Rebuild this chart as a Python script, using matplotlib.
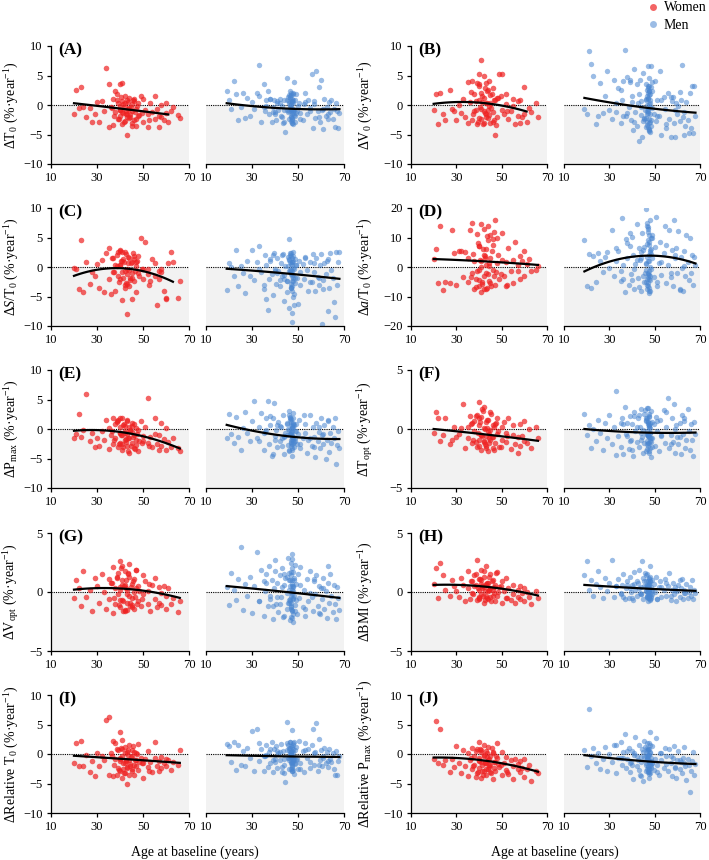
import numpy as np
import matplotlib.pyplot as plt
from matplotlib.lines import Line2D

plt.rcParams['font.family'] = ['Liberation Serif', 'DejaVu Serif']
plt.rcParams['mathtext.fontset'] = 'custom'
plt.rcParams['mathtext.rm'] = 'Liberation Serif'
plt.rcParams['mathtext.it'] = 'Liberation Serif:italic'
plt.rcParams['mathtext.bf'] = 'Liberation Serif:bold'

# ages at baseline (same subjects in every panel)
women_age = [20, 21, 22, 23, 24, 25, 27, 28, 29, 30,
             31, 32, 33, 34, 35, 35, 36, 37, 37, 38,
             38, 39, 39, 40, 40, 40, 41, 41, 41, 42,
             42, 42, 43, 43, 43, 44, 44, 44, 45, 45,
             45, 46, 46, 47, 47, 48, 48, 49, 50, 50,
             51, 52, 52, 53, 54, 55, 55, 56, 57, 57,
             58, 58, 59, 60, 60, 61, 62, 63, 65, 66,
             36.5, 37.5, 38.5, 39.5, 40.2, 40.6, 41.3, 41.7, 42.3, 42.7,
             43.2, 43.6, 44.2, 44.6, 45.3, 45.7, 46.4, 46.8, 47.4, 48.4,
             38.8, 39.8, 40.8, 41.5, 42.5, 43.5, 44.5, 46.0, 49.5, 52.5]
men_age = [19, 20, 21, 22, 23, 24, 25, 26, 27, 28,
           29, 30, 31, 32, 33, 34, 35, 35.5, 36, 37,
           37.5, 38, 38.5, 39, 39.5, 40, 40.5, 41, 41.5, 42,
           42.5, 43, 43.5, 44, 44.5, 45, 45.5, 46, 46.3, 46.6,
           46.9, 47.1, 47.3, 47.5, 47.7, 47.9, 48.1, 48.3, 48.6, 48.9,
           49, 49.5, 50, 50.5, 51, 52, 52.5, 53, 54, 54.5,
           55, 56, 56.5, 57, 57.5, 58, 58.5, 59, 59.5, 60,
           60.5, 61, 61.5, 62, 62.5, 63, 63.5, 64, 64.5, 65,
           65.5, 66, 66.5, 67, 67.5, 68, 45.2, 46.1, 47.0, 47.6,
           46.4, 46.7, 47.0, 47.2, 47.4, 47.6, 47.8, 48.0, 46.5, 47.3,
           46.8, 47.1, 47.5, 47.9, 46.2, 46.9, 47.7, 48.2, 45.6, 48.5,
           35, 38, 40, 42, 43, 44, 45, 49, 51, 53,
           55, 57, 59, 61, 63, 33, 36, 39, 41, 44,
           46.6, 47.2, 47.0, 46.8, 47.4, 47.6, 48.0, 46.3, 47.8, 46.9]

# (A) dT0
a_women = [-1.6, 2.5, -0.5, 3.0, -0.4, -2.0, -0.5, -2.8, -1.5, 0.5,
           -2.8, 0.6, -1.0, 6.2, 3.5, -3.7, -0.3, 1.0, -3.4, 2.4,
           -1.2, 0.3, -2.4, 3.5, -0.8, -1.9, 3.8, 0.6, -1.2, 1.5,
           -0.3, -2.7, -5.0, 0.9, -1.6, 1.2, -0.5, -2.2, -3.6, 0.2,
           -1.0, -2.5, 1.0, -0.7, -3.5, 0.4, -1.8, 1.6, -2.9, 1.1,
           -0.9, -1.5, -3.8, 0.3, -1.2, 1.5, -2.4, -0.6, -1.9, -3.7,
           0.0, -2.0, -2.6, 0.3, -1.3, -2.8, -1.0, -0.4, -1.7, -2.2,
           -0.5, -1.8, 0.8, -2.3, -0.2, 1.3, -1.4, -2.9, 0.3, -1.0,
           -2.1, 0.5, -1.6, -0.4, -3.0, 0.9, -1.2, -2.4, -0.1, -1.7,
           1.9, -0.9, -3.2, 0.2, -1.5, -0.6, -2.0, 0.6, -1.3, -2.6]
a_men = [2.3, 0.9, -0.6, 4.1, 1.9, -2.6, -0.4, 2.0, -2.2, 1.2,
         -1.8, 0.5, -0.6, 2.1, 6.8, -2.9, 3.5, -1.1, 0.8, 2.4,
         -1.6, 1.1, -2.8, -0.3, 0.9, -1.2, -2.6, 0.4, -0.9, 1.0,
         -1.9, -0.2, -3.0, 0.8, -4.5, 4.6, -1.2, 0.3, -2.4, 1.5,
         2.0, -1.0, 0.5, -3.1, 1.8, -0.6, 3.9, -1.7, 0.9, -2.8,
         1.9, -1.0, -0.2, 0.3, -1.4, -2.6, 0.1, 2.0, -1.5, 0.8,
         -0.5, 5.2, -3.9, 0.6, -2.2, 5.7, -1.1, 3.0, -2.9, 4.3,
         -0.8, -4.0, 1.1, -1.9, -0.3, -2.4, 0.5, -1.2, 0.8, -2.3,
         -0.6, -3.8, 0.4, -1.0, -3.9, -1.4, -0.9, 1.7, -2.0, 0.6,
         -0.3, 1.2, -1.8, 0.6, -2.5, -0.9, 2.1, -1.4, 0.0, -3.0,
         1.7, -0.6, -2.2, 0.9, -1.1, -2.7, 0.4, -0.8, 1.4, -1.9,
         -0.4, 1.0, -1.6, 0.3, -2.1, -0.9, 0.8, -1.3, -2.4, 0.5,
         -1.0, 0.2, -2.0, -0.7, -1.5, 1.6, -0.2, -1.2, 0.7, -2.8,
         2.3, -1.5, 0.1, -0.6, 1.1, -2.3, -1.0, 0.6, -3.2, -0.3]

# (B) dV0
b_women = [-0.8, 1.8, -3.3, 2.0, -1.6, -2.6, 2.5, -0.7, -1.0, -2.5,
           0.0, -1.3, 1.0, -2.0, 3.9, -3.0, 0.5, 4.0, -2.6, 1.8,
           -1.1, 3.8, -3.3, 5.3, 0.9, -2.2, 7.6, 2.0, -0.6, 4.9,
           1.2, -3.1, -1.5, 3.8, 0.3, 2.6, -2.2, -0.9, 1.7, -3.0,
           0.4, -1.2, 2.9, -5.1, 0.8, -2.0, 1.2, 5.2, -0.8, 5.2,
           -1.5, 1.8, 0.2, -2.4, -1.0, 1.1, -0.2, -3.3, 0.6, -1.8,
           0.9, -3.1, -2.0, 3.1, -1.5, -2.9, -0.5, -1.2, 0.3, -2.1,
           2.2, -1.5, 0.7, -2.8, 3.5, -0.4, 1.6, -3.2, -1.0, 2.9,
           -2.1, 0.3, 4.1, -1.7, -0.5, 1.9, -2.6, 0.8, -3.4, 1.2,
           -0.9, 3.2, -2.3, 0.5, -1.4, 2.4, -0.2, -2.9, 1.5, -1.1]
b_men = [-0.7, -1.5, 9.2, 7.0, 4.9, -3.3, -1.8, 3.8, -1.4, 1.6,
         5.8, -0.8, -2.4, 4.3, -1.2, 2.9, -3.0, 0.8, 4.0, 9.4,
         -1.9, 4.7, -0.4, 3.9, -2.5, 1.5, -4.3, 6.1, -1.2, 3.6,
         0.4, -6.1, 4.3, -1.7, -5.4, 5.5, -2.3, 1.0, -3.8, 2.6,
         6.6, -1.0, 3.3, -4.4, 0.2, -2.9, 1.9, 6.6, -3.5, -0.5,
         2.3, -1.6, 4.0, -2.7, 0.9, -1.9, 5.8, -5.1, 1.3, -0.7,
         -3.9, 2.0, -2.3, -5.4, 0.6, 1.4, -3.1, -5.4, 0.3, -1.6,
         -0.2, -2.7, 0.8, 6.7, -2.0, -1.2, -3.5, 0.5, -2.6, -4.8,
         2.1, -3.9, 3.3, -4.8, 3.3, -1.8, -2.2, 0.9, -1.3, 2.4,
         1.5, -2.8, 3.2, -0.6, -4.2, 2.4, -1.5, 0.8, -3.4, 4.6,
         -1.0, 2.0, -3.0, 0.4, -2.2, 1.2, -4.0, 3.0, -0.9, -2.5,
         2.6, -1.3, 0.5, -3.6, 1.8, -0.4, -2.7, 3.9, -1.8, 0.9,
         -3.2, 1.4, -0.8, 2.2, -5.0, 0.3, -1.9, 4.2, -2.9, 0.7,
         -1.6, 2.8, -3.8, 0.0, 1.7, -2.4, -0.3, 3.5, -4.5, 1.1]

# (C) dS/T0
c_women = [-0.1, -0.4, -3.8, 4.5, -4.3, 0.9, -2.8, -0.9, -1.5, 0.5,
           -3.6, 1.2, -4.2, 2.3, -2.0, 3.3, -4.5, 1.5, -0.8, 0.4,
           -4.0, 2.6, -1.6, 2.7, 0.3, -2.0, 2.6, -5.6, 1.0, -0.7,
           2.5, -3.0, -8.0, -1.2, -2.9, 1.6, -0.5, -3.2, 0.9, -1.8,
           -5.5, 1.3, -2.3, 0.2, 0.8, -1.0, 1.9, 5.0, -0.4, -2.1,
           4.3, -1.2, -0.3, -2.4, 1.4, 0.7, -1.6, -6.5, -0.6, -2.0,
           -0.3, -0.9, -4.0, -5.4, -5.2, 0.6, 2.5, 0.9, -5.2, -2.3,
           1.5, -0.8, 2.0, -2.6, 0.4, 1.1, -1.9, 0.9, -3.5, 2.2,
           -0.3, 1.7, -2.2, 0.6, -1.1, 2.4, -0.6, -4.2, 1.0, -1.5,
           0.2, 2.8, -0.9, 1.3, -2.7, 0.7, -1.8, 1.9, -0.4, -3.0]
c_men = [-3.9, 0.6, 0.0, -1.5, 2.8, -3.3, 0.2, -1.0, -4.4, 1.1,
         -1.5, 2.8, -2.2, 0.9, 3.6, -0.9, -3.8, 2.1, 0.4, -7.3,
         -2.0, 1.4, -1.2, -4.7, 2.4, -0.3, -2.8, 1.6, -0.7, -3.3,
         0.6, -1.5, 2.2, -5.8, 0.1, -2.3, 1.7, -6.9, 4.8, -0.8,
         -3.4, 2.3, -9.3, 0.9, -1.8, 2.5, -4.5, -0.4, 1.4, -2.7,
         0.3, -1.9, -6.2, 1.0, -3.1, 0.5, -2.1, 1.7, -0.5, -4.0,
         0.8, -2.5, 2.2, -0.9, -4.1, 1.5, -1.7, -3.0, 0.4, 2.2,
         -9.7, -2.2, 0.7, -1.2, 1.1, -7.4, -3.6, 2.4, -0.5, -1.9,
         -5.9, -8.5, 2.6, -3.0, 0.9, 2.5, -2.4, 1.4, -1.1, -0.6,
         -0.5, 2.0, -3.6, 0.8, -1.5, 1.6, -5.0, -0.2, 2.4, -2.4,
         0.5, -1.2, -4.0, 1.9, -0.7, -2.9, 1.0, -6.5, 0.2, -1.8,
         -3.0, 1.1, -0.6, -2.2, 2.0, -1.4, -4.3, 0.4, -0.9, 1.5,
         -2.6, 0.7, -1.9, -3.8, 1.3, -0.3, -5.5, 2.1, -1.0, -2.0,
         0.9, -3.3, 1.8, -0.5, -7.8, 0.3, -2.4, 1.2, -1.3, -3.6]

# (D) da/T0
d_women = [2.8, 6.0, -5.5, 13.8, -7.8, -5.0, -5.5, 12.5, 4.8, -6.0,
           5.5, 5.3, -3.5, 5.2, 3.0, -5.0, 12.5, -2.0, 14.8, -7.4,
           2.2, -1.5, 11.2, -6.5, 7.0, -4.3, 2.0, 14.5, -8.5, 12.8,
           4.0, -3.2, 6.2, -7.3, 0.8, 14.0, -2.5, 9.0, -5.5, 11.0,
           3.1, -1.0, 7.5, 16.0, -6.0, 1.3, 10.0, -4.0, 2.5, 11.5,
           -3.0, 1.8, -6.4, 6.5, -1.2, 2.3, -5.4, 8.4, -1.5, 0.6,
           3.6, -4.0, 2.2, -3.2, 5.5, 1.0, 2.7, -1.3, -1.0, 0.2,
           -3.5, 4.5, -6.8, 8.0, -1.0, 2.5, -5.8, 6.0, -7.5, 3.2,
           -2.0, 10.5, -4.6, 0.5, -6.3, 5.5, -3.0, 12.0, -1.8, 4.0,
           -4.0, 7.2, 0.0, -5.0, 3.8, -7.0, 1.5, 9.5, -2.5, -6.0]
d_men = [9.2, -6.4, 4.5, -7.0, 3.7, -5.0, 4.9, 2.1, -1.8, 3.3,
         5.0, -0.5, 12.5, -3.0, 2.2, 5.5, -4.8, 16.5, 0.6, -8.5,
         9.5, 2.9, -6.0, 7.0, -2.5, 10.3, 4.1, -7.3, 0.9, 14.7,
         -3.8, 6.5, 2.5, -8.0, 11.5, 5.8, -5.0, 1.3, 19.5, -7.6,
         13.0, -2.2, 7.5, -8.7, 4.0, 16.0, -4.5, 9.8, -0.8, 3.2,
         11.0, -3.3, 6.8, 17.0, -6.3, 1.2, 8.6, -2.8, 4.7, 13.8,
         -5.4, 0.8, 12.7, -3.5, 5.8, -6.4, 16.0, 2.9, 6.3, -2.2,
         12.2, -7.4, 3.5, -0.5, -8.0, 5.4, -3.1, 10.8, 1.6, -4.4,
         9.8, -2.0, 4.2, -6.0, 3.5, 0.8, 6.7, -1.0, 13.5, -3.9,
         -4.0, 7.8, -6.5, 2.0, 10.8, -2.8, 5.0, -8.0, 14.0, -1.2,
         3.3, -5.5, 8.5, -3.0, 1.0, 12.0, -7.0, 4.5, -2.2, 6.0,
         -1.5, 8.0, -4.5, 2.5, -6.8, 5.2, -3.2, 10.0, -5.0, 1.8,
         7.5, -2.0, 4.0, -7.8, 0.5, 6.5, -4.0, 11.5, -0.8, 3.0,
         -6.0, 9.0, -2.5, 15.0, -8.3, 2.2, 5.8, -5.2, 0.0, -3.5]

# (E) dPmax
e_women = [-1.6, -0.8, 2.5, -1.3, -0.2, 6.0, -2.0, -0.7, -3.0, -1.6,
           -2.9, -0.4, -1.8, 1.5, -3.4, 0.2, -1.0, 1.8, -2.5, 0.9,
           -1.5, 1.5, -3.0, 1.9, -0.6, -2.3, 1.8, -1.1, -3.6, 0.5,
           -1.9, -0.3, -2.8, 1.4, -0.9, -4.0, 0.3, -1.6, -2.4, 1.0,
           -0.5, -3.2, 0.8, -1.8, -2.7, -0.2, -3.8, 1.3, -1.2, -2.0,
           0.4, -2.3, 5.2, -1.4, -3.0, 1.8, -0.8, -2.6, -3.5, -1.0,
           1.0, -2.9, -1.7, -3.6, 0.1, -2.2, -3.0, -1.5, -3.3, -3.8,
           -0.4, -1.8, 1.2, -2.6, 0.3, -1.1, -3.1, 0.8, -0.7, -2.2,
           1.6, -1.5, -0.2, -2.9, 0.5, -1.3, -3.4, 0.1, -0.9, -2.0,
           1.4, -0.6, -2.5, 0.7, -1.7, -3.7, -0.3, -1.0, -2.3, -2.8]
e_men = [-1.6, 2.6, -0.8, -2.3, 2.0, -1.3, -3.5, 0.2, 2.9, -0.6,
         -2.1, 1.4, 4.7, -1.5, 0.3, 2.7, -3.6, -0.5, 1.8, 4.7,
         -2.6, 0.6, -4.5, 1.8, 4.4, -1.2, -0.2, -3.0, 1.2, -2.0,
         0.3, -1.6, 2.4, -4.2, -0.7, 0.9, -2.7, 3.0, -3.5, -0.9,
         1.7, -2.2, 0.1, -4.6, 2.7, -1.4, -3.0, 0.6, -2.1, -0.4,
         0.8, -2.5, -0.9, 1.5, -3.2, -1.6, 2.4, -0.7, -4.0, -1.9,
         2.4, -2.8, 0.3, -1.4, -4.8, 1.0, -2.0, -0.5, -3.3, 1.8,
         -1.1, -2.6, 0.7, -5.0, -1.8, 1.6, -3.9, -0.6, -2.4, 0.3,
         -1.5, 1.8, -6.0, -2.7, -0.4, -3.2, -1.0, 2.3, -1.8, 0.5,
         -0.8, 1.5, -2.4, 0.2, -1.3, -3.3, 0.9, -1.9, 2.1, -0.4,
         -2.8, 1.2, -1.1, 0.4, -3.8, -0.6, 1.8, -2.2, 0.0, -1.5,
         -0.7, 2.2, -1.8, 0.5, -2.9, -1.2, 1.1, -0.3, -2.5, 0.8,
         -1.6, -3.1, 0.3, -0.9, 1.4, -2.0, -0.2, -4.2, 0.7, -1.4,
         1.9, -2.6, -0.5, 0.6, -1.7, -3.5, 1.0, -0.1, -2.3, -1.0]

# (F) dTopt
f_women = [-0.3, 1.4, 0.9, -1.0, -0.5, 0.9, -1.3, -0.9, 0.2, -0.7,
           -0.4, 0.1, 2.1, -1.6, 0.2, -0.8, 1.1, -1.2, 0.5, -0.2,
           0.7, -1.5, 1.2, 0.3, -0.9, 2.3, -0.5, -1.8, 1.0, 0.1,
           -1.1, 1.9, -0.6, -1.4, 0.6, -0.2, -1.9, 0.8, -0.9, -0.1,
           1.4, -0.7, -1.6, 0.4, -1.2, 0.9, -0.4, -1.5, 0.2, -0.9,
           0.6, -1.1, -0.3, 0.9, -1.7, -0.5, 0.3, -1.3, -0.7, -2.0,
           0.4, -1.4, -0.6, -1.0, 0.7, -1.2, 0.0, -1.6, 0.2, -0.8,
           0.4, -0.9, 1.1, -0.3, -1.4, 0.6, -0.6, 1.5, -1.0, 0.0,
           -1.6, 0.8, -0.4, -1.2, 1.3, -0.7, 0.2, -1.8, 0.5, -0.2,
           -1.1, 0.9, -0.5, 1.7, -1.3, 0.1, -0.8, 0.3, -1.5, -0.6]
f_men = [1.3, -0.5, 0.3, -1.6, 0.0, -1.0, 0.8, -0.3, -1.8, 0.5,
         -0.8, 1.2, -1.3, 0.2, 3.2, -0.6, -1.5, 0.9, -2.1, 1.9,
         -0.4, 0.5, -1.7, 1.1, -0.9, 0.4, -2.3, 1.4, -0.2, -1.1,
         0.9, -1.5, 0.2, 1.7, -0.7, -2.0, 1.3, -0.4, 0.7, -1.3,
         1.8, -0.6, -1.9, 0.3, 1.1, -1.0, -0.3, 1.5, -2.4, 0.6,
         -0.8, 0.4, -1.4, 1.0, -0.2, -1.9, 0.8, -0.6, 1.6, -1.2,
         0.2, 2.6, -1.6, -0.5, 0.9, -1.1, 2.1, -2.0, 0.3, -0.7,
         -1.3, 0.5, -2.1, 1.2, -0.4, 0.7, -1.6, -0.9, 1.7, -0.2,
         -1.8, 0.4, -0.9, -2.3, 0.6, -0.4, -1.2, 0.9, -0.6, 0.2,
         -0.2, 0.9, -1.2, 0.4, -0.7, 1.3, -1.6, 0.1, -0.4, 1.0,
         -1.0, 0.6, -2.0, -0.3, 0.8, -1.4, 0.3, -0.8, 1.6, -1.1,
         0.5, -0.6, -1.8, 0.2, 1.2, -0.9, -0.1, -1.5, 0.7, -0.5,
         1.4, -1.3, 0.0, -0.7, 0.9, -2.2, 0.4, -1.0, 1.1, -0.3,
         -1.7, 0.6, -0.5, 1.8, -1.2, 0.2, -0.8, -1.9, 0.5, -0.4]

# (G) dVopt
g_women = [-0.5, 1.0, 0.3, -1.2, 1.8, -0.4, 0.2, -1.6, 1.2, 0.5,
           -0.9, 1.5, 0.0, -1.4, 1.1, -0.6, 0.8, -1.8, 2.1, 0.3,
           -1.0, 1.6, -0.2, 2.6, 0.4, -1.3, 2.2, -0.7, 1.0, -1.6,
           0.6, 1.8, -0.9, 0.2, -1.5, 1.3, -0.3, 2.4, -1.1, 0.7,
           -0.5, 1.1, -1.4, 0.3, 1.9, -0.8, 0.5, -1.2, 1.4, -0.2,
           0.9, -1.0, 0.1, -1.6, 0.6, 1.2, -0.6, -1.3, 0.4, -0.9,
           -0.1, -1.1, 0.5, -1.4, -0.3, 0.3, -1.0, -0.5, -1.7, -0.8,
           0.8, -0.5, 1.3, -1.1, 0.2, 2.0, -0.8, 0.5, -1.5, 1.0,
           -0.2, 1.6, -0.9, 0.4, -1.3, 0.9, -0.4, 1.9, -1.0, 0.1,
           1.2, -0.7, 0.6, -1.6, 0.3, 1.5, -1.2, 0.0, -0.6, 0.7]
g_men = [0.4, -1.1, 1.6, 0.2, -0.7, 1.1, 3.8, -1.5, 0.7, -0.3,
         1.3, -1.8, 0.5, 3.4, -0.8, 1.9, -2.0, 0.1, 1.5, -1.2,
         2.2, -0.6, 1.0, -2.3, 0.3, 2.7, -1.0, 0.8, -1.7, 1.4,
         -0.4, 2.0, -2.1, 0.6, 1.2, -1.4, 2.9, -0.7, 0.2, -2.4,
         1.7, -0.9, 3.2, -1.6, 0.4, -2.5, 1.0, -0.3, 2.3, -1.1,
         0.7, -1.9, 1.5, -0.5, 2.1, -1.3, 0.2, -2.0, 1.1, -0.8,
         1.8, -0.4, -1.6, 0.9, -0.2, 1.4, -1.2, 0.5, -1.9, 0.3,
         -0.6, 1.2, -1.4, 0.1, -2.2, 0.8, -0.9, 1.5, -0.3, -1.7,
         0.6, -1.0, -2.3, 0.4, -0.5, -1.5, -0.1, 1.0, -1.3, 0.5,
         0.5, -0.8, 1.4, -1.5, 0.2, 2.0, -0.5, -1.9, 1.0, -0.2,
         2.5, -1.2, 0.7, -0.6, 1.6, -2.1, 0.1, 1.2, -0.9, -1.6,
         0.9, -0.3, 1.8, -1.0, 0.4, -2.0, 1.3, -0.7, 0.6, -1.4,
         -0.1, 1.1, -1.8, 0.3, 2.2, -0.8, 0.8, -1.2, -0.4, 1.5,
         -0.6, 2.8, -1.4, 0.0, 1.0, -2.2, 0.5, -0.9, 1.7, -0.3]

# (H) dBMI
h_women = [0.7, 2.0, -0.5, 2.5, 1.4, 0.2, -0.3, 1.0, 0.5, 0.1,
           -0.4, 1.2, 0.6, -0.8, 1.8, 0.3, -0.6, 0.9, -0.1, 1.4,
           0.5, -0.7, 2.7, 0.2, 1.1, -0.5, 0.7, 1.9, -0.2, 0.4,
           1.3, -0.9, 0.6, 2.2, -0.3, 0.8, 0.1, -0.6, 1.5, 0.3,
           -0.4, 1.0, 0.2, -0.8, 0.6, 1.7, -0.3, 0.4, -0.9, 0.9,
           0.1, -0.5, 1.2, 0.3, -0.7, 0.6, -0.2, -0.9, 0.2, -0.4,
           0.5, -0.6, -0.1, 0.3, -0.8, 0.0, -0.4, -1.0, 0.1, -0.5,
           0.9, -0.2, 1.5, 0.3, -0.6, 1.1, 0.5, -0.3, 1.8, 0.1,
           0.7, -0.5, 1.3, 0.2, -0.8, 0.9, 0.4, -0.1, 1.6, 0.0,
           0.6, -0.4, 1.0, 0.3, -0.7, 0.8, 0.2, -0.3, 0.5, -0.5]
h_men = [1.4, 2.6, 0.2, 1.0, -0.3, 0.7, 1.8, 0.4, -0.5, 1.2,
         0.1, 0.8, 2.7, -0.4, 0.5, 1.1, -0.2, 0.6, 1.5, -0.6,
         0.3, 0.9, -0.5, 1.3, 0.0, 0.6, -0.7, 1.7, 0.2, -0.3,
         0.8, 1.9, -0.1, 0.4, 2.6, -0.6, 0.9, 0.1, 1.4, -0.4,
         0.6, -0.8, 1.2, 0.2, -0.3, 0.9, 2.2, -0.5, 0.4, 1.0,
         -0.2, 0.7, 0.0, 1.3, -0.6, 0.4, 0.9, -0.4, 0.2, 1.1,
         -0.3, 0.5, 1.6, -0.7, 0.2, 0.8, -0.2, 0.4, -0.8, 0.1,
         0.6, -0.4, 0.3, 1.1, -0.6, 0.2, -0.1, 0.7, -0.5, 0.0,
         0.4, -0.3, 1.0, -0.6, 0.2, -0.1, 0.5, 0.9, -0.2, 0.3,
         0.4, -0.3, 0.9, 0.1, -0.5, 0.6, 1.3, -0.2, 0.3, 0.8,
         -0.4, 0.2, 1.1, -0.6, 0.5, 0.0, 0.7, -0.3, 1.6, 0.2,
         -0.1, 0.6, -0.5, 0.9, 0.3, -0.2, 1.2, 0.1, -0.6, 0.4,
         0.8, -0.3, 0.2, 1.0, -0.1, 0.5, -0.4, 0.3, 0.7, -0.2,
         1.5, 0.0, -0.5, 0.6, 0.2, -0.3, 0.9, 0.1, -0.7, 0.4]

# (I) dRelative T0
i_women = [-1.5, 1.8, -2.0, 2.2, -2.1, -0.1, -3.0, -1.2, -3.8, 0.1,
           -2.0, -0.3, -1.0, 5.7, 6.3, -3.5, 0.1, 2.2, -3.8, 1.8,
           -0.8, -2.4, 0.6, 3.7, -1.2, -2.9, 2.3, -0.4, -4.0, 1.2,
           -1.5, -3.3, -5.0, 0.4, -2.2, 1.5, -1.0, -3.5, -0.3, -2.5,
           0.6, -1.8, -3.6, 0.2, -1.1, 1.7, -2.7, -0.6, -4.0, -1.5,
           -0.9, -2.2, 0.5, -1.4, -3.0, 2.0, -0.7, -2.0, -1.2, -2.9,
           -0.5, -2.4, -1.6, -0.9, -2.0, -1.1, -2.7, -1.3, -1.8, 0.6,
           -0.3, -1.9, 0.9, -2.7, -0.8, 1.1, -1.5, -3.2, 0.2, -1.1,
           -2.3, 0.6, -1.7, -0.5, -2.9, 1.4, -1.0, -2.1, 0.0, -1.4,
           -3.6, -0.6, 0.8, -2.5, -1.2, -0.2, -2.0, 0.4, -1.6, -2.8]
i_men = [1.7, 1.3, -1.3, 2.1, -2.7, 1.6, -1.8, 0.5, -2.0, 1.0,
         -0.6, 3.9, -2.8, 4.2, -1.2, 0.8, -2.9, -0.3, 1.5, -2.2,
         0.3, -1.5, 2.0, -3.0, 0.9, -0.8, 1.4, -2.4, 0.2, -1.0,
         1.7, -3.1, 0.5, -1.9, -4.7, 5.5, -0.6, 1.1, -2.6, 2.1,
         0.3, -1.3, 4.0, -2.9, 1.6, -0.4, 2.0, -3.4, 0.7, -1.7,
         1.2, -0.9, -2.5, 2.2, -1.6, 0.5, -3.0, 1.8, -0.7, 0.9,
         -2.3, 1.5, 4.3, -1.8, 0.3, 5.3, -2.8, 2.6, -1.0, 0.6,
         -2.0, -0.4, 1.1, -1.5, 0.4, -2.2, 0.9, -0.8, -1.4, 0.2,
         -2.5, -3.6, 0.5, -3.6, -1.2, -0.3, 1.9, -0.7, 0.4, -1.6,
         -0.2, 1.1, -1.6, 0.5, -2.4, -0.7, 1.8, -1.2, 0.2, -2.9,
         1.4, -0.5, -1.9, 0.8, -1.0, -2.5, 0.3, -0.8, 1.6, -1.5,
         -0.3, 0.9, -1.4, 0.4, -2.2, -0.9, 0.7, -1.1, -2.6, 0.6,
         -1.3, 0.1, -1.8, -0.6, -1.2, 1.9, -0.1, -1.0, 0.5, -3.2,
         2.0, -1.4, 0.2, -0.4, 1.2, -2.0, -0.9, 0.7, -2.7, -0.2]

# (J) dRelative Pmax
j_women = [-0.9, 5.6, -1.5, 4.2, -1.8, -1.0, -3.0, -0.8, -2.2, 1.4,
           -1.5, -3.3, 0.6, -2.0, 0.2, -3.8, -1.0, 1.1, -2.6, -0.3,
           -1.8, 0.8, -3.2, 2.0, -0.6, -2.4, 0.3, -4.0, -1.3, 1.6,
           -2.8, -0.2, -1.6, -3.6, 0.5, -1.0, -2.5, 1.2, -3.1, -0.4,
           -1.9, -4.3, 0.4, -1.3, -2.9, 1.8, -0.7, -2.2, -3.6, 0.3,
           -1.6, -2.7, -0.5, -3.4, -1.1, -2.0, -4.2, -0.8, -2.5, -1.7,
           -3.0, -1.2, -2.4, -3.9, -0.9, -2.6, -1.8, -4.5, -2.9, -3.3,
           -0.6, -2.1, 0.5, -3.0, -1.2, 0.9, -1.8, -3.5, -0.3, -1.5,
           -2.6, 0.2, -1.9, -0.8, -3.3, 1.0, -1.3, -2.4, -0.4, -1.7,
           -3.9, -1.0, 0.6, -2.8, -1.4, -0.5, -2.2, 0.1, -1.8, -3.1]
j_men = [0.6, -2.2, 7.6, -0.4, 1.0, -1.6, 0.2, -2.5, -0.9, 1.2,
         -2.8, 0.0, -1.4, 1.6, -3.3, -0.6, 2.0, -1.9, 0.4, 3.4,
         -2.4, -0.8, 1.1, -3.0, -1.3, 0.5, -4.2, -0.2, 2.8, -2.0,
         -1.1, 1.5, -3.5, -0.5, 0.9, -4.6, 2.2, -1.8, -0.3, -2.6,
         0.7, -3.1, 1.9, -1.2, -4.0, 0.1, 3.8, -2.3, -0.6, -1.5,
         1.3, -2.7, -0.9, 2.7, -1.8, -3.6, 0.2, -1.1, -2.4, 1.0,
         -0.4, -2.9, 0.8, -1.6, -3.8, -0.7, 1.4, -2.2, -4.1, -1.0,
         0.5, -2.5, -1.4, -3.2, -0.6, 1.2, -2.0, -4.4, -0.8, -1.9,
         -6.4, -2.9, -1.2, 0.3, -3.5, -1.7, -0.5, -2.8, 0.9, -1.3,
         -0.8, 0.6, -2.2, -0.1, -3.0, -1.3, 1.5, -1.8, -0.4, -3.4,
         1.0, -1.0, -2.5, 0.3, -1.5, -2.9, -0.2, -1.2, 1.2, -2.1,
         -0.7, 0.5, -1.9, -0.3, -2.7, -1.4, 0.4, -1.6, -3.1, 0.1,
         -1.7, -0.4, -2.4, -1.0, -1.6, 1.6, -0.6, -1.5, 0.2, -3.7,
         1.8, -2.0, -0.2, -0.9, 0.8, -2.6, -1.3, 0.4, -3.3, -0.8]

# fitted curves: start, middle, end (age, value)
women_fit_x = [[20, 40, 61], [20, 35, 61], [20, 40, 63], [20, 45, 66], [20, 38, 66],
               [20, 40, 66], [20, 40, 66], [20, 40, 66], [20, 40, 66], [20, 40, 66]]
women_fit_y = [[0.3, -0.6, -1.6], [0.2, 0.5, -1.1], [-1.5, -0.2, -2.5], [2.7, 1.8, 0.7],
               [-0.3, -0.4, -3.3], [0.0, -0.4, -1.0], [0.2, 0.3, -0.5], [0.6, 0.5, -0.3],
               [-0.3, -0.8, -1.5], [-0.6, -1.0, -3.0]]
men_fit_x = [[19, 45, 68]] * 10
men_fit_y = [[0.3, -0.6, -0.7], [1.2, -0.4, -1.3], [-0.3, -1.1, -2.0], [-1.5, 3.8, 1.2],
             [0.7, -1.2, -1.7], [0.0, -0.3, -0.3], [0.5, 0.0, -0.5], [0.6, 0.3, 0.1],
             [-0.2, -0.4, -0.5], [-0.2, -1.2, -1.7]]

letters = ['A', 'B', 'C', 'D', 'E', 'F', 'G', 'H', 'I', 'J']
ylabels = [r'ΔT$_0$ (%·year$^{-1}$)', r'ΔV$_0$ (%·year$^{-1}$)',
           r'Δ$S$/T$_0$ (%·year$^{-1}$)', r'Δ$a$/T$_0$ (%·year$^{-1}$)',
           r'ΔP$_{\mathrm{max}}$ (%·year$^{-1}$)', r'ΔT$_{\mathrm{opt}}$ (%·year$^{-1}$)',
           r'ΔV$_{\mathrm{opt}}$ (%·year$^{-1}$)', r'ΔBMI (%·year$^{-1}$)',
           r'ΔRelative T$_0$ (%·year$^{-1}$)', r'ΔRelative P$_{\mathrm{max}}$ (%·year$^{-1}$)']
women_vals = [a_women, b_women, c_women, d_women, e_women, f_women, g_women, h_women, i_women, j_women]
men_vals = [a_men, b_men, c_men, d_men, e_men, f_men, g_men, h_men, i_men, j_men]
ylims = [10, 10, 10, 20, 10, 5, 5, 5, 10, 10]
ytick_sets = [[-10, -5, 0, 5, 10], [-10, -5, 0, 5, 10], [-10, -5, 0, 5, 10],
              [-20, -10, 0, 10, 20], [-10, -5, 0, 5, 10], [-5, 0, 5], [-5, 0, 5],
              [-5, 0, 5], [-10, -5, 0, 5, 10], [-10, -5, 0, 5, 10]]

RED = '#ee2222'
BLUE = '#4a86d0'
W, H = 709, 860
fig = plt.figure(figsize=(W / 100, H / 100), dpi=100)

col_px = [(51, 189, 206, 344), (411, 547, 564, 700)]
row_top = [46, 208, 370, 533, 695]
ax_h = 118
label_x = [-0.215, -0.265]


def style_axis(ax, lim, ticks, show_y):
    ax.set_xlim(10, 70)
    ax.set_ylim(-lim, lim)
    ax.set_xticks([10, 30, 50, 70])
    ax.axhspan(-lim, 0, color='#f2f2f2', lw=0, zorder=0)
    ax.axhline(0, color='black', ls=(0, (1, 1)), lw=0.8, zorder=1)
    for s in ['top', 'right']:
        ax.spines[s].set_visible(False)
    ax.spines['bottom'].set_linewidth(0.9)
    ax.tick_params(direction='out', length=3, width=0.9, labelsize=9, pad=3)
    if show_y:
        ax.set_yticks(ticks)
        ax.spines['left'].set_linewidth(0.9)
    else:
        ax.spines['left'].set_visible(False)
        ax.set_yticks([])


for i in range(10):
    r, c = divmod(i, 2)
    x0, x1, x2, x3 = col_px[c]
    top = row_top[r]
    bottom = 1 - (top + ax_h) / H
    axw = fig.add_axes([x0 / W, bottom, (x1 - x0) / W, ax_h / H])
    axm = fig.add_axes([x2 / W, bottom, (x3 - x2) / W, ax_h / H])
    lim = ylims[i]

    style_axis(axw, lim, ytick_sets[i], True)
    style_axis(axm, lim, ytick_sets[i], False)

    axw.scatter(women_age, women_vals[i], s=16, color=RED, alpha=0.7, lw=0, zorder=2)
    axm.scatter(men_age, men_vals[i], s=15, color=BLUE, alpha=0.55, lw=0, zorder=2)

    for ax, fx, fy in [(axw, women_fit_x[i], women_fit_y[i]), (axm, men_fit_x[i], men_fit_y[i])]:
        coef = np.polyfit(fx, fy, 2)
        xs = np.linspace(fx[0], fx[-1], 60)
        ax.plot(xs, np.polyval(coef, xs), color='black', lw=1.6, zorder=3)

    axw.set_ylabel(ylabels[i], fontsize=10)
    axw.yaxis.set_label_coords(label_x[c], 0.5)
    axw.text(0.05, 1.03, '(' + letters[i] + ')', transform=axw.transAxes,
             ha='left', va='top', fontsize=12.5, fontweight='bold')

fig.text(195 / W, 1 - 852 / H, 'Age at baseline (years)', ha='center', va='center', fontsize=10)
fig.text(555 / W, 1 - 852 / H, 'Age at baseline (years)', ha='center', va='center', fontsize=10)

handles = [Line2D([], [], marker='o', ls='', color=RED, alpha=0.7, markersize=5, mec='none'),
           Line2D([], [], marker='o', ls='', color=BLUE, alpha=0.55, markersize=5, mec='none')]
fig.legend(handles, ['Women', 'Men'], loc='upper left', bbox_to_anchor=(643 / W, 1.0),
           frameon=False, fontsize=10, handletextpad=0.2, labelspacing=0.3,
           borderaxespad=0, borderpad=0.1, handlelength=1.2)

fig.savefig('out.png', dpi=100)
